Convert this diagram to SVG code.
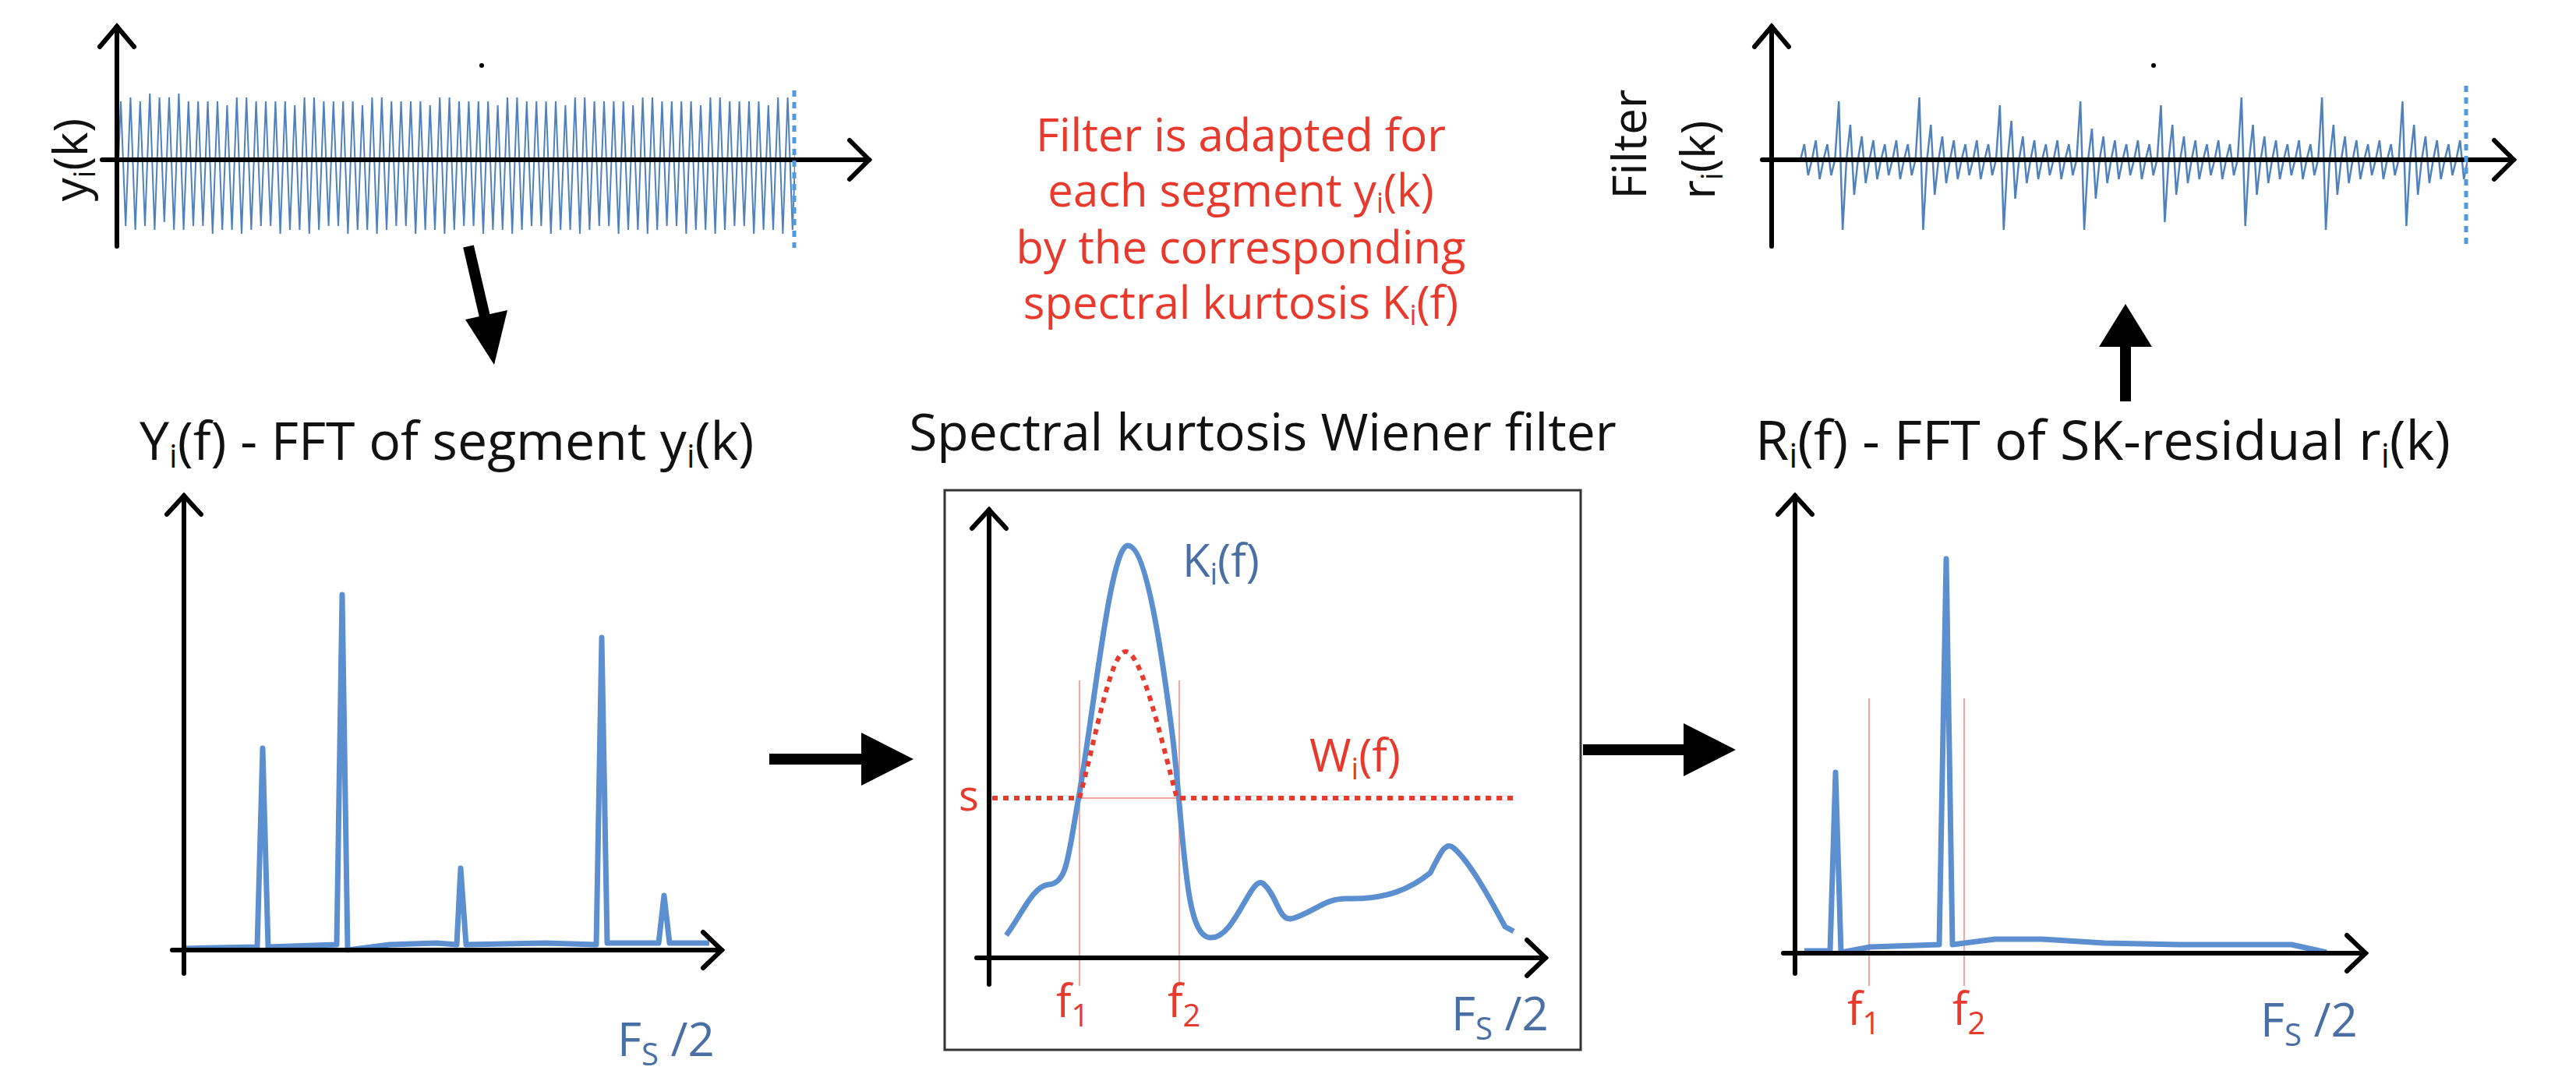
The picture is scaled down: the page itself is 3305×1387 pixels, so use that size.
<svg xmlns="http://www.w3.org/2000/svg" width="3305" height="1387" viewBox="0 0 3305 1387">
<style>
.ax{fill:none;stroke:#000;stroke-width:6;stroke-linecap:round}
.sig{fill:none;stroke:#4f81bd;stroke-width:2}
.spec{fill:none;stroke:#5b8fd0;stroke-width:7;stroke-linejoin:round}
.t{font-family:"Open Sans",sans-serif;fill:#111}
.red{font-family:"Open Sans",sans-serif;fill:#e8392d}
.blue{font-family:"Open Sans",sans-serif;fill:#4a6fa5}
.dot{fill:none;stroke:#4f9be0;stroke-width:5;stroke-dasharray:8,7}
.thin{stroke:#f08a80;stroke-width:1.5;fill:none}
</style>
<defs>
<clipPath id="c1"><rect x="150" y="100" width="870" height="220"/></clipPath>
<clipPath id="c2"><rect x="2300" y="100" width="866" height="220"/></clipPath>
</defs>
<rect width="3305" height="1387" fill="#fff"/>
<g id="segment-yi">
<g clip-path="url(#c1)">
<path class="sig" d="M152,205 l3,-75 l6.2,160 l6.2,-165 l6.2,170 l6.2,-165 l6.2,160 l6.2,-170 l6.2,175 l6.2,-170 l6.2,160 l6.2,-160 l6.2,170 l6.2,-175 l6.2,175 l6.2,-165 l6.2,160 l6.2,-160 l6.2,160 l6.2,-160 l6.2,170 l6.2,-170 l6.2,165 l6.2,-160 l6.2,160 l6.2,-170 l6.2,175 l6.2,-175 l6.2,170 l6.2,-165 l6.2,160 l6.2,-160 l6.2,160 l6.2,-160 l6.2,170 l6.2,-170 l6.2,165 l6.2,-160 l6.2,160 l6.2,-170 l6.2,175 l6.2,-175 l6.2,170 l6.2,-165 l6.2,160 l6.2,-160 l6.2,160 l6.2,-160 l6.2,170 l6.2,-170 l6.2,165 l6.2,-160 l6.2,160 l6.2,-170 l6.2,175 l6.2,-175 l6.2,170 l6.2,-165 l6.2,160 l6.2,-160 l6.2,160 l6.2,-160 l6.2,170 l6.2,-170 l6.2,165 l6.2,-160 l6.2,160 l6.2,-170 l6.2,175 l6.2,-175 l6.2,170 l6.2,-165 l6.2,160 l6.2,-160 l6.2,160 l6.2,-160 l6.2,170 l6.2,-170 l6.2,165 l6.2,-160 l6.2,160 l6.2,-170 l6.2,175 l6.2,-175 l6.2,170 l6.2,-165 l6.2,160 l6.2,-160 l6.2,160 l6.2,-160 l6.2,170 l6.2,-170 l6.2,165 l6.2,-160 l6.2,160 l6.2,-170 l6.2,175 l6.2,-175 l6.2,170 l6.2,-165 l6.2,160 l6.2,-160 l6.2,160 l6.2,-160 l6.2,170 l6.2,-170 l6.2,165 l6.2,-160 l6.2,160 l6.2,-170 l6.2,175 l6.2,-175 l6.2,170 l6.2,-165 l6.2,160 l6.2,-160 l6.2,160 l6.2,-160 l6.2,170 l6.2,-170 l6.2,165 l6.2,-160 l6.2,160 l6.2,-170 l6.2,175 l6.2,-175 l6.2,170 l6.2,-165 l6.2,160 l6.2,-160 l6.2,160 l6.2,-160 l6.2,170 l6.2,-170 l6.2,165 l6.2,-160 l6.2,160 l6.2,-170 l6.2,175 l6.2,-175 l6.2,170 l6.2,-165"/>
</g>
<line class="ax" x1="131" y1="205" x2="1115" y2="205"/>
<polyline class="ax" points="1090,180 1115,205 1090,230"/>
<line class="ax" x1="150" y1="316" x2="150" y2="34"/>
<polyline class="ax" points="128,60 150,34 172,60"/>
<line class="dot" x1="1019" y1="116" x2="1019" y2="318"/>
<circle cx="618" cy="84" r="3" fill="#000"/>
<text class="t" font-size="60" transform="translate(112,205) rotate(-90)" text-anchor="middle">y<tspan font-size="38" baseline-shift="-10">i</tspan>(k)</text>
</g>
<g id="note">
<text class="red" font-size="58" text-anchor="middle" x="1592" y="194">Filter is adapted for</text>
<text class="red" font-size="58" text-anchor="middle" x="1592" y="265">each segment y<tspan font-size="36" baseline-shift="-8">i</tspan>(k)</text>
<text class="red" font-size="58" text-anchor="middle" x="1592" y="338">by the corresponding</text>
<text class="red" font-size="58" text-anchor="middle" x="1592" y="409">spectral kurtosis K<tspan font-size="36" baseline-shift="-8">i</tspan>(f)</text>
</g>
<g id="fft-yi">
<text class="t" font-size="68" x="179" y="590">Y<tspan font-size="42" baseline-shift="-10">i</tspan>(f) - FFT of segment y<tspan font-size="42" baseline-shift="-10">i</tspan>(k)</text>
<path class="spec" d="M236,1217 L330,1215 L337,960 L344,1215 L432,1212 L439,763 L446,1219 L500,1212 L560,1210 L586,1212 L591,1114 L598,1212 L700,1210 L765,1212 L772,818 L779,1210 L845,1210 L852,1149 L859,1210 L910,1210"/>
<line class="ax" x1="221" y1="1219" x2="926" y2="1219"/>
<polyline class="ax" points="902,1196 926,1219 902,1242"/>
<line class="ax" x1="236" y1="1249" x2="236" y2="636"/>
<polyline class="ax" points="214,660 236,636 258,660"/>
<text class="blue" font-size="60" x="792" y="1355">F<tspan font-size="40" baseline-shift="-12">S</tspan> /2</text>
</g>
<g id="sk-filter">
<text class="t" font-size="66" text-anchor="middle" x="1620" y="578">Spectral kurtosis Wiener filter</text>
<rect x="1212" y="629" width="816" height="718" fill="none" stroke="#333" stroke-width="3"/>
<line class="thin" x1="1385" y1="873" x2="1385" y2="1265"/>
<line class="thin" x1="1513" y1="873" x2="1513" y2="1265"/>
<line class="thin" x1="1385" y1="1024" x2="1513" y2="1024"/>
<path class="spec" d="M1291,1200 C1310,1175 1325,1137 1345,1135 C1370,1133 1370,1100 1385,1017 C1405,900 1425,700 1447,700 C1470,700 1490,830 1505,950 C1520,1080 1520,1200 1552,1203 C1585,1206 1605,1120 1621,1134 C1640,1150 1640,1185 1660,1178 C1690,1168 1700,1152 1730,1153 C1780,1154 1810,1140 1835,1120 C1850,1090 1855,1080 1865,1088 C1885,1105 1910,1150 1931,1189 L1942,1195"/>
<path d="M1273,1024 L1385,1024 C1405,950 1425,836 1444,836 C1465,836 1490,950 1510,1024 L1942,1024" fill="none" stroke="#e8392d" stroke-width="6" stroke-dasharray="7,7"/>
<line class="ax" x1="1253" y1="1229" x2="1983" y2="1229"/>
<polyline class="ax" points="1959,1206 1983,1229 1959,1252"/>
<line class="ax" x1="1269" y1="1263" x2="1269" y2="654"/>
<polyline class="ax" points="1247,678 1269,654 1291,678"/>
<text class="blue" font-size="58" x="1517" y="740">K<tspan font-size="38" baseline-shift="-10">i</tspan>(f)</text>
<text class="red" font-size="58" x="1680" y="990">W<tspan font-size="38" baseline-shift="-10">i</tspan>(f)</text>
<text class="red" font-size="54" x="1230" y="1040">s</text>
<text class="red" font-size="58" x="1355" y="1305">f<tspan font-size="40" baseline-shift="-12">1</tspan></text>
<text class="red" font-size="58" x="1498" y="1305">f<tspan font-size="40" baseline-shift="-12">2</tspan></text>
<text class="blue" font-size="60" x="1862" y="1322">F<tspan font-size="40" baseline-shift="-12">S</tspan> /2</text>
</g>
<g id="fft-ri">
<text class="t" font-size="70" x="2252" y="590">R<tspan font-size="44" baseline-shift="-10">i</tspan>(f) - FFT of SK-residual r<tspan font-size="44" baseline-shift="-10">i</tspan>(k)</text>
<line class="thin" x1="2398" y1="896" x2="2398" y2="1265"/>
<line class="thin" x1="2520" y1="896" x2="2520" y2="1265"/>
<path class="spec" d="M2315,1220 L2348,1220 L2355,991 L2362,1222 L2400,1215 L2488,1212 L2497,717 L2505,1212 L2560,1205 L2620,1205 L2700,1210 L2800,1212 L2900,1212 L2940,1212 L2985,1222"/>
<line class="ax" x1="2288" y1="1223" x2="3035" y2="1223"/>
<polyline class="ax" points="3011,1200 3035,1223 3011,1246"/>
<line class="ax" x1="2303" y1="1249" x2="2303" y2="636"/>
<polyline class="ax" points="2281,660 2303,636 2325,660"/>
<text class="red" font-size="58" x="2370" y="1315">f<tspan font-size="40" baseline-shift="-12">1</tspan></text>
<text class="red" font-size="58" x="2505" y="1315">f<tspan font-size="40" baseline-shift="-12">2</tspan></text>
<text class="blue" font-size="60" x="2900" y="1330">F<tspan font-size="40" baseline-shift="-12">S</tspan> /2</text>
</g>
<g id="residual-ri">
<g clip-path="url(#c2)">
<path class="sig" transform="translate(2310,0) scale(1.23,1) translate(-2310,0)" d="M2310,205 l4,-20 l4,40 l4,-20 l4,-25 l4,50 l4,-25 l4,-20 l4,40 l4,-20 l4,-75 l4,165 l4,-90 l4,-45 l4,90 l4,-45 l4,-30 l4,60 l4,-30 l4,-25 l4,50 l4,-25 l4,-20 l4,40 l4,-20 l4,-25 l4,50 l4,-25 l4,-20 l4,40 l4,-20 l4,-80 l4,170 l4,-90 l4,-45 l4,90 l4,-45 l4,-30 l4,60 l4,-30 l4,-25 l4,50 l4,-25 l4,-20 l4,40 l4,-20 l4,-25 l4,50 l4,-25 l4,-20 l4,40 l4,-20 l4,-70 l4,160 l4,-90 l4,-50 l4,100 l4,-50 l4,-30 l4,60 l4,-30 l4,-25 l4,50 l4,-25 l4,-20 l4,40 l4,-20 l4,-25 l4,50 l4,-25 l4,-20 l4,40 l4,-20 l4,-75 l4,165 l4,-90 l4,-40 l4,90 l4,-50 l4,-30 l4,60 l4,-30 l4,-25 l4,50 l4,-25 l4,-20 l4,40 l4,-20 l4,-25 l4,50 l4,-25 l4,-20 l4,40 l4,-20 l4,-70 l4,150 l4,-80 l4,-45 l4,90 l4,-45 l4,-30 l4,60 l4,-30 l4,-25 l4,50 l4,-25 l4,-20 l4,40 l4,-20 l4,-25 l4,50 l4,-25 l4,-20 l4,40 l4,-20 l4,-80 l4,165 l4,-85 l4,-45 l4,90 l4,-45 l4,-30 l4,60 l4,-30 l4,-25 l4,50 l4,-25 l4,-20 l4,40 l4,-20 l4,-25 l4,50 l4,-25 l4,-20 l4,40 l4,-20 l4,-80 l4,170 l4,-90 l4,-45 l4,90 l4,-45 l4,-30 l4,60 l4,-30 l4,-25 l4,50 l4,-25 l4,-20 l4,40 l4,-20 l4,-25 l4,50 l4,-25 l4,-20 l4,40 l4,-20 l4,-75 l4,160 l4,-85 l4,-45 l4,90 l4,-45 l4,-30 l4,60 l4,-30 l4,-25 l4,50 l4,-25 l4,-20 l4,40 l4,-20 l4,-25 l4,50 l4,-25"/>
</g>
<line class="ax" x1="2261" y1="205" x2="3225" y2="205"/>
<polyline class="ax" points="3200,180 3225,205 3200,230"/>
<line class="ax" x1="2273" y1="316" x2="2273" y2="34"/>
<polyline class="ax" points="2251,60 2273,34 2295,60"/>
<line class="dot" x1="3164" y1="110" x2="3164" y2="318"/>
<circle cx="2763" cy="84" r="3" fill="#000"/>
<text class="t" font-size="60" transform="translate(2112,185) rotate(-90)" text-anchor="middle">Filter</text>
<text class="t" font-size="60" transform="translate(2200,205) rotate(-90)" text-anchor="middle">r<tspan font-size="38" baseline-shift="-10">i</tspan>(k)</text>
</g>
<g id="connectors">
<line x1="601" y1="316" x2="624" y2="415" stroke="#000" stroke-width="14"/>
<polygon points="597,410 651,398 634,468" fill="#000"/>
<line x1="987" y1="974" x2="1110" y2="974" stroke="#000" stroke-width="14"/>
<polygon points="1105,940 1172,974 1105,1008" fill="#000"/>
<line x1="2031" y1="962" x2="2165" y2="962" stroke="#000" stroke-width="14"/>
<polygon points="2160,928 2227,962 2160,996" fill="#000"/>
<line x1="2727" y1="515" x2="2727" y2="440" stroke="#000" stroke-width="14"/>
<polygon points="2693,445 2727,390 2761,445" fill="#000"/>
</g>
</svg>
